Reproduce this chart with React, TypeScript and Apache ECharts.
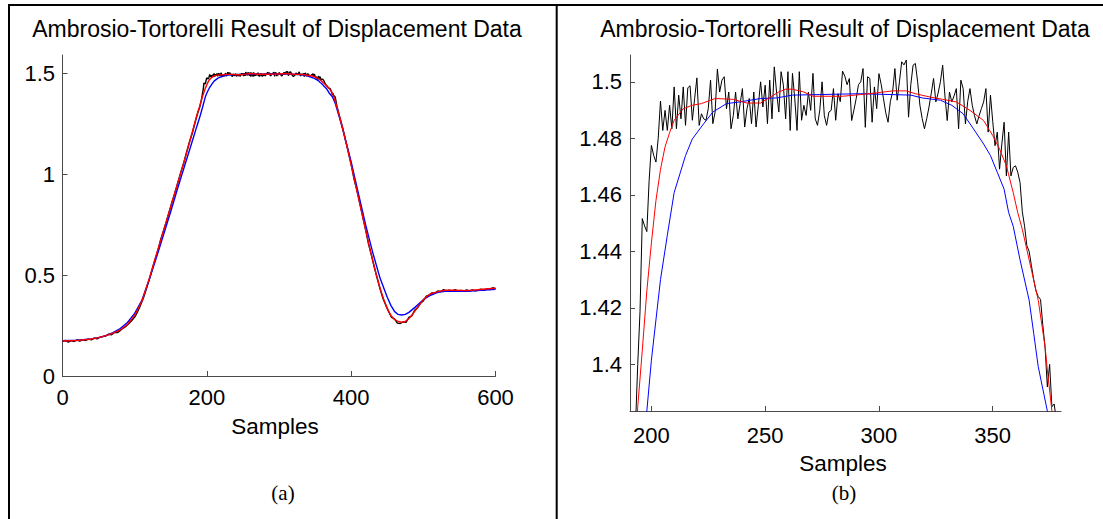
import React, { useEffect, useRef } from "react";
import * as echarts from "echarts";

// ---------- data ----------
const titleText = "Ambrosio-Tortorelli Result of Displacement Data";
const xAxisLabel = "Samples";
const captions = ["(a)", "(b)"];

const leftXTicks = [0, 200, 400, 600];
const leftYTicks = [0, 0.5, 1, 1.5];
const rightXTicks = [200, 250, 300, 350];
const rightYTicks = [1.4, 1.42, 1.44, 1.46, 1.48, 1.5];

// black: measured displacement, samples 0,4,...,188
const blackStartValues = [
  0.172, 0.176, 0.168, 0.175, 0.171, 0.179, 0.173, 0.18, 0.176, 0.183, 0.179, 0.188,
  0.184, 0.192, 0.195, 0.198, 0.207, 0.204, 0.216, 0.215, 0.225, 0.237, 0.246, 0.26,
  0.275, 0.292, 0.318, 0.35, 0.385, 0.43, 0.475, 0.525, 0.575, 0.62, 0.675, 0.72,
  0.765, 0.815, 0.865, 0.91, 0.96, 1.01, 1.055, 1.11, 1.16, 1.205, 1.26, 1.31,
];
// black: samples 190..380 (one per sample)
const blackMidValues = [
  1.33, 1.345, 1.36, 1.378, 1.4, 1.4186, 1.4516, 1.449, 1.447, 1.465, 1.4775, 1.474, 1.4716, 1.48,
  1.4932, 1.4828, 1.4899, 1.4828, 1.4917, 1.4834, 1.4982, 1.4834, 1.4953, 1.4869,
  1.4982, 1.4846, 1.4979, 1.4986, 1.4864, 1.4941, 1.5014, 1.4846, 1.4887, 1.4869,
  1.4864, 1.4905, 1.5006, 1.4852, 1.4893, 1.5045, 1.4964, 1.5006, 1.5018, 1.4905,
  1.4964, 1.4834, 1.4881, 1.4964, 1.4869, 1.4923, 1.4976, 1.484, 1.4905, 1.4941,
  1.4852, 1.4964, 1.484, 1.4917, 1.5, 1.4911, 1.4988, 1.4852, 1.5006, 1.4869,
  1.5053, 1.4964, 1.4893, 1.5036, 1.4988, 1.4869, 1.5036, 1.4828, 1.503, 1.4941,
  1.4828, 1.5036, 1.4864, 1.4917, 1.4881, 1.4964, 1.4899, 1.503, 1.4869, 1.4846,
  1.49, 1.5, 1.488, 1.4846, 1.4893, 1.4899, 1.4976, 1.4864, 1.4958, 1.493,
  1.5038, 1.502, 1.499, 1.5012, 1.4863, 1.49, 1.4941, 1.499, 1.5, 1.5047,
  1.4839, 1.5018, 1.5012, 1.4857, 1.4982, 1.4905, 1.5029, 1.499, 1.494, 1.489,
  1.4857, 1.493, 1.4964, 1.5047, 1.4935, 1.5, 1.5071, 1.506, 1.5077, 1.4875,
  1.499, 1.5059, 1.5065, 1.5, 1.4917, 1.487, 1.4834, 1.487, 1.4911, 1.496,
  1.5012, 1.4929, 1.496, 1.5, 1.5059, 1.495, 1.4863, 1.4964, 1.4929, 1.495,
  1.4976, 1.4834, 1.5006, 1.4976, 1.4851, 1.493, 1.4976, 1.4917, 1.488, 1.4851,
  1.488, 1.4905, 1.4929, 1.4976, 1.4822, 1.4953, 1.486, 1.4774, 1.4822, 1.4691,
  1.478, 1.4857, 1.4667, 1.4822, 1.4667, 1.4697, 1.4703, 1.468, 1.4644, 1.454,
  1.4489, 1.442, 1.44, 1.435, 1.43, 1.426, 1.424, 1.423, 1.414, 1.406,
  1.392, 1.4, 1.385, 1.386, 1.38, 1.36, 1.34,
];
// black: samples 384,388,...,600
const blackEndValues = [
  1.285, 1.232, 1.17, 1.11, 1.05, 0.975, 0.92, 0.855, 0.79, 0.725, 0.655, 0.6,
  0.54, 0.485, 0.432, 0.385, 0.35, 0.318, 0.29, 0.283, 0.262, 0.26, 0.268, 0.266,
  0.29, 0.298, 0.325, 0.338, 0.36, 0.372, 0.395, 0.4, 0.412, 0.41, 0.421, 0.418,
  0.428, 0.42, 0.425, 0.421, 0.428, 0.419, 0.424, 0.42, 0.426, 0.421, 0.427, 0.422,
  0.425, 0.43, 0.424, 0.432, 0.428, 0.437, 0.432,
];

// red: Ambrosio-Tortorelli result
const redSamples = [
  0, 20, 40, 50, 60, 70, 80, 90, 100, 110, 120, 130, 140, 150, 160, 170, 180, 186, 190, 194,
  196, 198, 200, 202, 204, 206, 208, 210, 214, 218, 222, 228, 236, 240, 242, 248, 251, 256,
  259, 262, 267, 271, 284, 292, 299, 306, 312, 316, 322, 328, 334, 340, 346, 350, 353, 356,
  359, 361, 363, 366, 370, 373, 374, 376, 378, 380, 385, 390, 395, 400, 405, 410, 415, 420,
  425, 430, 435, 440, 445, 450, 455, 460, 465, 470, 475, 480, 485, 490, 495, 500, 505, 510,
  520, 530, 545, 560, 575, 590, 600,
];
const redValues = [
  0.173, 0.176, 0.183, 0.19, 0.2, 0.212, 0.228, 0.255, 0.3, 0.37, 0.48, 0.6, 0.72, 0.84, 0.96,
  1.08, 1.21, 1.29, 1.335, 1.385, 1.405, 1.426, 1.443, 1.458, 1.469, 1.477, 1.482, 1.4864,
  1.4905, 1.4917, 1.4923, 1.4941, 1.4938, 1.4929, 1.4925, 1.4925, 1.494, 1.4964, 1.4974,
  1.4974, 1.4964, 1.4949, 1.4949, 1.4955, 1.4961, 1.4968, 1.4968, 1.4958, 1.4947, 1.4938,
  1.4929, 1.4899, 1.4863, 1.481, 1.4762, 1.4703, 1.4608, 1.4537, 1.4478, 1.437, 1.4227,
  1.4063, 1.398, 1.3835, 1.36, 1.335, 1.27, 1.2, 1.125, 1.045, 0.965, 0.885, 0.805, 0.725,
  0.645, 0.57, 0.5, 0.435, 0.38, 0.335, 0.3, 0.28, 0.27, 0.266, 0.27, 0.285, 0.305, 0.33,
  0.355, 0.378, 0.395, 0.407, 0.418, 0.425, 0.425, 0.423, 0.427, 0.432, 0.435,
];

// blue: comparison smoothing
const blueSamples = [
  0, 20, 40, 50, 60, 70, 80, 90, 100, 110, 120, 130, 140, 150, 160, 170, 180, 186, 190, 194,
  198, 200, 204, 207, 210, 215, 218, 223, 227, 233, 239, 248, 255, 262, 274, 292, 314, 319,
  327, 332, 337, 341, 346, 349, 352, 355, 357, 359, 362, 366, 368, 370, 374, 378, 385, 390,
  400, 410, 420, 430, 440, 450, 455, 460, 465, 470, 475, 480, 490, 500, 510, 520, 530, 560,
  600,
];
const blueValues = [
  0.175, 0.177, 0.184, 0.19, 0.2, 0.215, 0.235, 0.265, 0.31, 0.375, 0.475, 0.585, 0.7, 0.815,
  0.935, 1.05, 1.165, 1.235, 1.28, 1.33, 1.3835, 1.4015, 1.43, 1.4457, 1.4608, 1.4739, 1.4798,
  1.4852, 1.4893, 1.4923, 1.4929, 1.4941, 1.4943, 1.4953, 1.4955, 1.4958, 1.4953, 1.4943,
  1.4935, 1.4917, 1.4887, 1.484, 1.478, 1.4739, 1.468, 1.462, 1.4537, 1.4489, 1.437, 1.4227,
  1.411, 1.3992, 1.3835, 1.35, 1.265, 1.2, 1.06, 0.905, 0.75, 0.61, 0.485, 0.39, 0.35, 0.32,
  0.305, 0.302, 0.305, 0.315, 0.345, 0.378, 0.4, 0.414, 0.42, 0.42, 0.43,
];

// ---------- helpers ----------
const SANS = '"Liberation Sans", Arial, sans-serif';
const SERIF = '"Liberation Serif", "Times New Roman", serif';
const AXIS_COLOR = "#4a4a4a";

const blackData: [number, number][] = [
  ...blackStartValues.map((v, i) => [i * 4, v] as [number, number]),
  ...blackMidValues.map((v, i) => [190 + i, v] as [number, number]),
  ...blackEndValues.map((v, i) => [384 + i * 4, v] as [number, number]),
];
const redData = redSamples.map((s, i) => [s, redValues[i]]);
const blueData = blueSamples.map((s, i) => [s, blueValues[i]]);

const fmt = (v: number) => String(Number(v.toFixed(2)));

function makeAxis(gridIndex: number, min: number, max: number, ticks: number[], margin: number) {
  return {
    type: "value",
    gridIndex,
    min,
    max,
    axisLine: { show: true, onZero: false, lineStyle: { color: AXIS_COLOR, width: 1 } },
    axisTick: { show: true, inside: true, length: 5, customValues: ticks, lineStyle: { color: AXIS_COLOR, width: 1 } },
    axisLabel: {
      show: true,
      customValues: ticks,
      margin,
      fontSize: 22,
      color: "#000",
      fontFamily: SANS,
      formatter: (v: number) => fmt(v),
    },
    splitLine: { show: false },
  };
}

function makeSeries(axisIndex: number, width: number) {
  return [
    { name: "data", color: "#000000", data: blackData },
    { name: "blue", color: "#0000ff", data: blueData },
    { name: "AT", color: "#ff0000", data: redData },
  ].map((s) => ({
    type: "line",
    name: s.name,
    xAxisIndex: axisIndex,
    yAxisIndex: axisIndex,
    data: s.data,
    showSymbol: false,
    symbol: "none",
    clip: true,
    silent: true,
    lineStyle: { color: s.color, width },
  }));
}

function text(x: number, y: number, t: string, font: string) {
  return {
    type: "text",
    x,
    y,
    silent: true,
    style: { text: t, fill: "#000", font, align: "center", verticalAlign: "middle" },
  };
}

export default function App() {
  const ref = useRef<HTMLDivElement>(null);
  useEffect(() => {
    if (!ref.current) return;
    const chart = echarts.init(ref.current, undefined, { renderer: "svg" });
    chart.setOption({
      animation: false,
      backgroundColor: "#ffffff",
      grid: [
        { left: 62.5, top: 55, width: 433, height: 321 },
        { left: 630, top: 55, width: 431, height: 356 },
      ],
      xAxis: [makeAxis(0, 0, 600, leftXTicks, 10), makeAxis(1, 190.6, 380, rightXTicks, 13)],
      yAxis: [makeAxis(0, 0, 1.59, leftYTicks, 7.5), makeAxis(1, 1.3835, 1.5095, rightYTicks, 8)],
      series: [...makeSeries(0, 1.4), ...makeSeries(1, 1)],
      graphic: [
        { type: "line", silent: true, shape: { x1: 8, y1: 5, x2: 1103, y2: 5 }, style: { stroke: "#000", lineWidth: 2 } },
        { type: "line", silent: true, shape: { x1: 9, y1: 4, x2: 9, y2: 519 }, style: { stroke: "#000", lineWidth: 2 } },
        { type: "line", silent: true, shape: { x1: 556.7, y1: 4, x2: 556.7, y2: 519 }, style: { stroke: "#000", lineWidth: 2 } },
        text(277, 28.5, titleText, `23px ${SANS}`),
        text(845, 28.5, titleText, `23px ${SANS}`),
        text(275, 426, xAxisLabel, `22.5px ${SANS}`),
        text(843, 463, xAxisLabel, `22.5px ${SANS}`),
        text(283, 493, captions[0], `21px ${SERIF}`),
        text(844, 493, captions[1], `21px ${SERIF}`),
      ],
    });
    return () => chart.dispose();
  }, []);
  return (
    <div
      ref={ref}
      style={{ position: "absolute", left: 0, top: 0, width: 1103, height: 519, background: "#fff" }}
    />
  );
}
